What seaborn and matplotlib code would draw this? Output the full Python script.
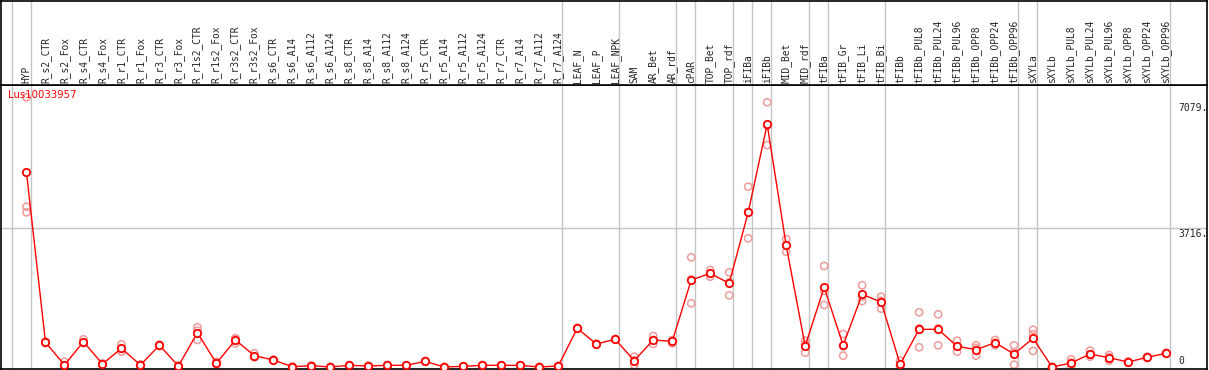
"""
Expression profile of one gene across tissues / treatments
"""

import matplotlib
matplotlib.use("Agg")
import matplotlib.pyplot as plt
import seaborn as sns
import pandas as pd

gene_name = "Lus10033957"

categories = [
    "HYP", "R_s2_CTR", "R_s2_Fox", "R_s4_CTR", "R_s4_Fox", "R_r1_CTR", "R_r1_Fox",
    "R_r3_CTR", "R_r3_Fox", "R_r1s2_CTR", "R_r1s2_Fox", "R_r3s2_CTR", "R_r3s2_Fox",
    "R_s6_CTR", "R_s6_A14", "R_s6_A112", "R_s6_A124", "R_s8_CTR", "R_s8_A14",
    "R_s8_A112", "R_s8_A124", "R_r5_CTR", "R_r5_A14", "R_r5_A112", "R_r5_A124",
    "R_r7_CTR", "R_r7_A14", "R_r7_A112", "R_r7_A124", "LEAF_N", "LEAF_P", "LEAF_NPK",
    "SAM", "AR_Bet", "AR_rdf", "cPAR", "TOP_Bet", "TOP_rdf", "iFIBa", "iFIBb",
    "MID_Bet", "MID_rdf", "tFIBa", "tFIB_Gr", "tFIB_Li", "tFIB_Bi", "tFIBb",
    "tFIBb_PUL8", "tFIBb_PUL24", "tFIBb_PUL96", "tFIBb_OPP8", "tFIBb_OPP24",
    "tFIBb_OPP96", "sXYLa", "sXYLb", "sXYLb_PUL8", "sXYLb_PUL24", "sXYLb_PUL96",
    "sXYLb_OPP8", "sXYLb_OPP24", "sXYLb_OPP96",
]

mean_expr = [
    5204, 660, 53, 677, 80, 500, 53, 580, 27, 917, 98, 722, 303,
    187, 9, 36, 0, 45, 27, 45, 45, 151, 0, 18, 45, 45, 45, 0, 27,
    1034, 615, 740, 169, 722, 686, 2325, 2504, 2237, 4135, 6487,
    3253, 561, 2130, 580, 1943, 1737, 75, 1007, 1007, 553, 463, 650,
    347, 767, 0, 107, 347, 249, 134, 258, 366,
]

# replicate measurements (three per sample)
rep_1 = [
    7210, 680, 140, 740, 100, 606, 70, 600, 40, 1061, 140, 760, 366,
    200, 15, 45, 5, 55, 35, 55, 50, 165, 5, 25, 55, 50, 50, 5, 35,
    1050, 630, 750, 276, 829, 722, 2932, 2593, 2531, 4820, 7075,
    3421, 703, 2700, 882, 2184, 1880, 169, 1462, 1408, 703, 580, 722,
    580, 998, 5, 205, 437, 321, 150, 275, 380,
]
rep_2 = [
    4285, 640, 10, 640, 60, 410, 40, 560, 15, 722, 60, 633, 260,
    175, 5, 27, 0, 35, 20, 35, 40, 140, 0, 10, 40, 40, 40, 0, 20,
    1020, 600, 730, 53, 615, 633, 1702, 2414, 1916, 3440, 5934,
    3082, 382, 1657, 303, 1764, 1559, 20, 526, 580, 410, 303, 580,
    62, 428, 0, 0, 276, 169, 120, 240, 350,
]
rep_3 = [
    4135, 660, 10, 650, 80, 484, 50, 580, 27, 968, 95, 773, 283,
    187, 8, 36, 0, 45, 27, 45, 45, 150, 0, 18, 45, 45, 45, 0, 27,
    1032, 615, 740, 178, 722, 703, 2341, 2505, 2264, 4145, 6452,
    3256, 598, 2033, 555, 1881, 1772, 36, 1033, 1033, 546, 506, 648,
    399, 875, 0, 116, 328, 257, 132, 259, 368,
]

# last sample index of each group (separator drawn just right of it)
group_ends = [-1, 0, 28, 31, 34, 35, 37, 38, 39, 41, 42, 45, 52, 53, 60]
value_labels = [0, 3716, 7079]
grid_values = [3716]

W, H = 1209, 370
STEP = 19.0       # pixels between samples
X0 = 26.0         # pixel of first sample
PLOT_W = 1207
TOP_H = 85        # header height in px
Y0_PX = 367       # pixel row of value 0
UNITS_PER_PX = 3716 / (367 - 228)

sns.set_style("white")
plt.rcParams["font.family"] = ["DejaVu Sans"]

df_mean = pd.DataFrame({"pos": range(len(categories)), "expr": mean_expr})
df_rep = pd.DataFrame({
    "pos": list(range(len(categories))) * 3,
    "expr": rep_1 + rep_2 + rep_3,
})

fig = plt.figure(figsize=(W / 100, H / 100), dpi=100)
ax = fig.add_axes([0.5 / W, 1 / H, (PLOT_W - 0.5) / W, (369 - TOP_H) / H])
hdr = fig.add_axes([0.5 / W, (H - TOP_H) / H, (PLOT_W - 0.5) / W, (TOP_H - 0.5) / H])

xlim = (-X0 / STEP, (PLOT_W - X0) / STEP)
for a in (ax, hdr):
    a.set_xlim(*xlim)
    a.set_xticks([])
    a.set_yticks([])
    for s in a.spines.values():
        s.set_color("black")
        s.set_linewidth(1.2)
    for e in group_ends:
        a.axvline(e + 0.22, color="#c4c4c4", lw=1, zorder=0)

ax.set_ylim((Y0_PX - 369) * UNITS_PER_PX, (Y0_PX - TOP_H) * UNITS_PER_PX)
hdr.set_ylim(0, TOP_H)

for g in grid_values:
    ax.axhline(g, color="#c4c4c4", lw=1, zorder=0)

# replicates
sns.scatterplot(data=df_rep, x="pos", y="expr", ax=ax, marker="o", s=27,
                facecolor="none", edgecolor="#f09a9a", linewidth=1.1,
                zorder=2, legend=False)
# mean profile
sns.lineplot(data=df_mean, x="pos", y="expr", ax=ax, color="red", lw=1,
             marker="o", markersize=5.3, markerfacecolor="white",
             markeredgecolor="red", markeredgewidth=1.3, zorder=3)
ax.set_xlabel("")
ax.set_ylabel("")

for i, name in enumerate(categories):
    hdr.text(i, 2, name, rotation=90, ha="center", va="bottom",
             fontsize=6.9, family="DejaVu Sans Mono")

ax.text(8 / PLOT_W, 1 - 5 / (369 - TOP_H), gene_name, transform=ax.transAxes,
        color="red", fontsize=7.3, va="top", ha="left")

lab_x = (1178 - X0) / STEP
for v in value_labels:
    txt = str(v) if v == 0 else f"{v}."
    if v == 0:
        ax.text(lab_x, v + 40, txt, fontsize=7, family="DejaVu Sans Mono",
                va="bottom", ha="left")
    else:
        ax.text(lab_x, v - 30, txt, fontsize=7, family="DejaVu Sans Mono",
                va="top", ha="left")

fig.savefig("out.png", dpi=100)
